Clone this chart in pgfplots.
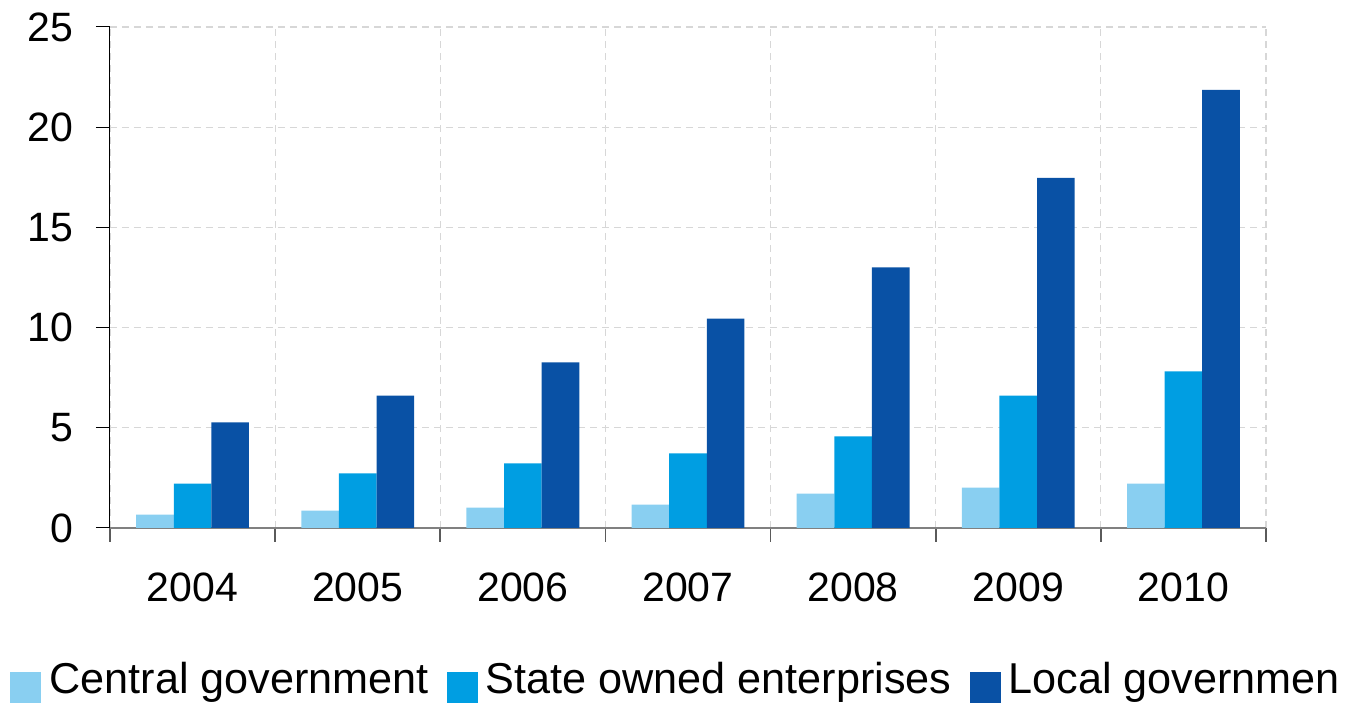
\documentclass[border=0pt]{standalone}
\usepackage{fontspec}
\setmainfont{Liberation Sans}
\usepackage{pgfplots}
\pgfplotsset{compat=1.18}
\definecolor{cgov}{RGB}{137,207,241}
\definecolor{soe}{RGB}{0,158,226}
\definecolor{lgov}{RGB}{9,81,165}
\definecolor{gridc}{RGB}{215,215,215}
\definecolor{xaxc}{RGB}{128,128,128}
\begin{document}
\begin{tikzpicture}
\begin{axis}[
  scale only axis,
  width=578pt, height=250.5pt,
  xmin=-0.5, xmax=6.5, ymin=0, ymax=25,
  ybar=0pt, bar width=18.8pt,
  axis x line=bottom, axis y line=left,
  separate axis lines,
  x axis line style={-, draw=xaxc, line width=1pt},
  y axis line style={-, draw=black, line width=0.5pt},
  xtick={-0.5,0.5,...,6.5},
  x tick label as interval,
  xticklabels={2004,2005,2006,2007,2008,2009,2010},
  ytick={0,5,10,15,20,25},
  tick align=outside,
  major tick length=7pt,
  x tick style={draw=xaxc!70!black, line width=0.8pt},
  y tick style={draw=black, line width=0.5pt},
  ymajorgrids, xmajorgrids,
  major grid style={draw=gridc, line width=0.6pt, dash pattern=on 3.5pt off 2.5pt},
  /pgf/number format/assume math mode=true,
  tick label style={font=\fontsize{20.5}{24}\selectfont, black},
  xticklabel style={inner sep=0pt, yshift=-15pt},
  yticklabel style={inner sep=0pt, xshift=-11pt},
  legend columns=3,
  legend style={at={(axis description cs:0,0)}, anchor=north west,
    xshift=-50pt, yshift=-67pt, draw=none, fill=none, inner sep=0pt,
    font=\fontsize{21.6}{25}\selectfont,
    nodes={inner sep=0pt},
    /tikz/every odd column/.append style={column sep=4pt},
    /tikz/every even column/.append style={column sep=9pt}},
  legend image code/.code={\fill[#1] (0pt,-11.5pt) rectangle (15.5pt,4pt);},
]
\addplot[fill=cgov, draw=none] coordinates {(0,0.67) (1,0.87) (2,1.02) (3,1.17) (4,1.72) (5,2.02) (6,2.22)};
\addplot[fill=soe, draw=none] coordinates {(0,2.22) (1,2.72) (2,3.22) (3,3.72) (4,4.57) (5,6.61) (6,7.81)};
\addplot[fill=lgov, draw=none] coordinates {(0,5.27) (1,6.6) (2,8.27) (3,10.45) (4,13.0) (5,17.47) (6,21.86)};
\legend{Central government, State owned enterprises, Local governmen}
\end{axis}
\pgfresetboundingbox
\path (-55pt,-88pt) rectangle (619.5pt,264pt);
\end{tikzpicture}
\end{document}
